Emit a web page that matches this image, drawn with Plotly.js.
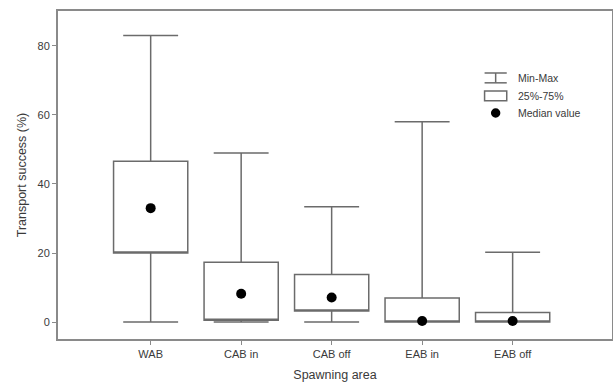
<!DOCTYPE html>
<html>
<head>
<meta charset="utf-8">
<script src="https://cdn.plot.ly/plotly-3.0.1.min.js"></script>
<style>html,body{margin:0;padding:0;background:#fff;}#chart{width:613px;height:387px;}</style>
</head>
<body>
<div id="chart"></div>
<script>
const categories = ["WAB", "CAB in", "CAB off", "EAB in", "EAB off"];
const minVals    = [0, 0, 0, 0, 0];
const q1Vals     = [20, 0.5, 3.2, 0, 0];
const medianVals = [33, 8.2, 7.1, 0.3, 0.3];
const q3Vals     = [46.6, 17.3, 13.8, 7, 2.8];
const maxVals    = [83, 49, 33.4, 58, 20.2];
const yTicks     = [0, 20, 40, 60, 80];
const legendLabels = ["Min-Max", "25%-75%", "Median value"];

const lineColor = "#6b6b6b";
const textColor = "#3a3a3a";
const font = {family: "Liberation Sans, Arial, sans-serif", size: 11, color: textColor};

const boxTrace = {
  type: "box",
  x: categories,
  q1: q1Vals,
  median: q1Vals,
  q3: q3Vals,
  lowerfence: minVals,
  upperfence: maxVals,
  width: 0.82,
  whiskerwidth: 0.74,
  fillcolor: "#ffffff",
  line: {color: lineColor, width: 1.5},
  boxpoints: false,
  showlegend: false,
  hoverinfo: "skip"
};

const medTrace = {
  type: "scatter",
  mode: "markers",
  x: categories,
  y: medianVals,
  marker: {color: "#000", size: 10},
  showlegend: false,
  hoverinfo: "skip"
};

// legend (paper coords)
const lx = 0.79, ly = [0.796, 0.741, 0.689];
const hw = 0.02, hh = 0.015;
const shapes = [
  {type: "line", xref: "paper", yref: "paper", x0: lx - hw, x1: lx + hw, y0: ly[0] + hh, y1: ly[0] + hh, line: {color: lineColor, width: 1.5}},
  {type: "line", xref: "paper", yref: "paper", x0: lx - hw, x1: lx + hw, y0: ly[0] - hh, y1: ly[0] - hh, line: {color: lineColor, width: 1.5}},
  {type: "line", xref: "paper", yref: "paper", x0: lx, x1: lx, y0: ly[0] - hh, y1: ly[0] + hh, line: {color: lineColor, width: 1.5}},
  {type: "rect", xref: "paper", yref: "paper", x0: lx - hw, x1: lx + hw, y0: ly[1] - hh, y1: ly[1] + hh, line: {color: lineColor, width: 1.5}, fillcolor: "#fff"},
  {type: "circle", xref: "paper", yref: "paper", x0: lx - 0.0085, x1: lx + 0.0085, y0: ly[2] - 0.0145, y1: ly[2] + 0.0145, line: {color: "#000", width: 0}, fillcolor: "#000"}
];
const annotations = legendLabels.map((t, i) => ({
  xref: "paper", yref: "paper", x: 0.826, y: ly[i], text: t, showarrow: false,
  xanchor: "left", yanchor: "middle", font: {family: font.family, size: 10.5, color: textColor}
}));

const layout = {
  width: 613, height: 387,
  margin: {l: 58, r: 1, t: 11, b: 48},
  paper_bgcolor: "#fff", plot_bgcolor: "#fff",
  font: font,
  showlegend: false,
  xaxis: {
    type: "category", range: [-1.024, 5.098],
    showline: true, mirror: true, linecolor: "#8a8a8a", linewidth: 2,
    ticks: "outside", ticklen: 4, tickcolor: "#8a8a8a", showgrid: false, zeroline: false,
    title: {text: "Spawning area", font: {family: font.family, size: 12.5, color: textColor}, standoff: 11},
    tickfont: font
  },
  yaxis: {
    range: [-4.9, 90.1], tickvals: yTicks,
    showline: true, mirror: true, linecolor: "#8a8a8a", linewidth: 2,
    ticks: "outside", ticklen: 4, tickcolor: "#8a8a8a", showgrid: false, zeroline: false,
    title: {text: "Transport success (%)", font: {family: font.family, size: 12.5, color: textColor}, standoff: 8},
    tickfont: font
  },
  shapes: shapes,
  annotations: annotations
};

Plotly.newPlot("chart", [boxTrace, medTrace], layout, {staticPlot: true, displayModeBar: false});
</script>
</body>
</html>
